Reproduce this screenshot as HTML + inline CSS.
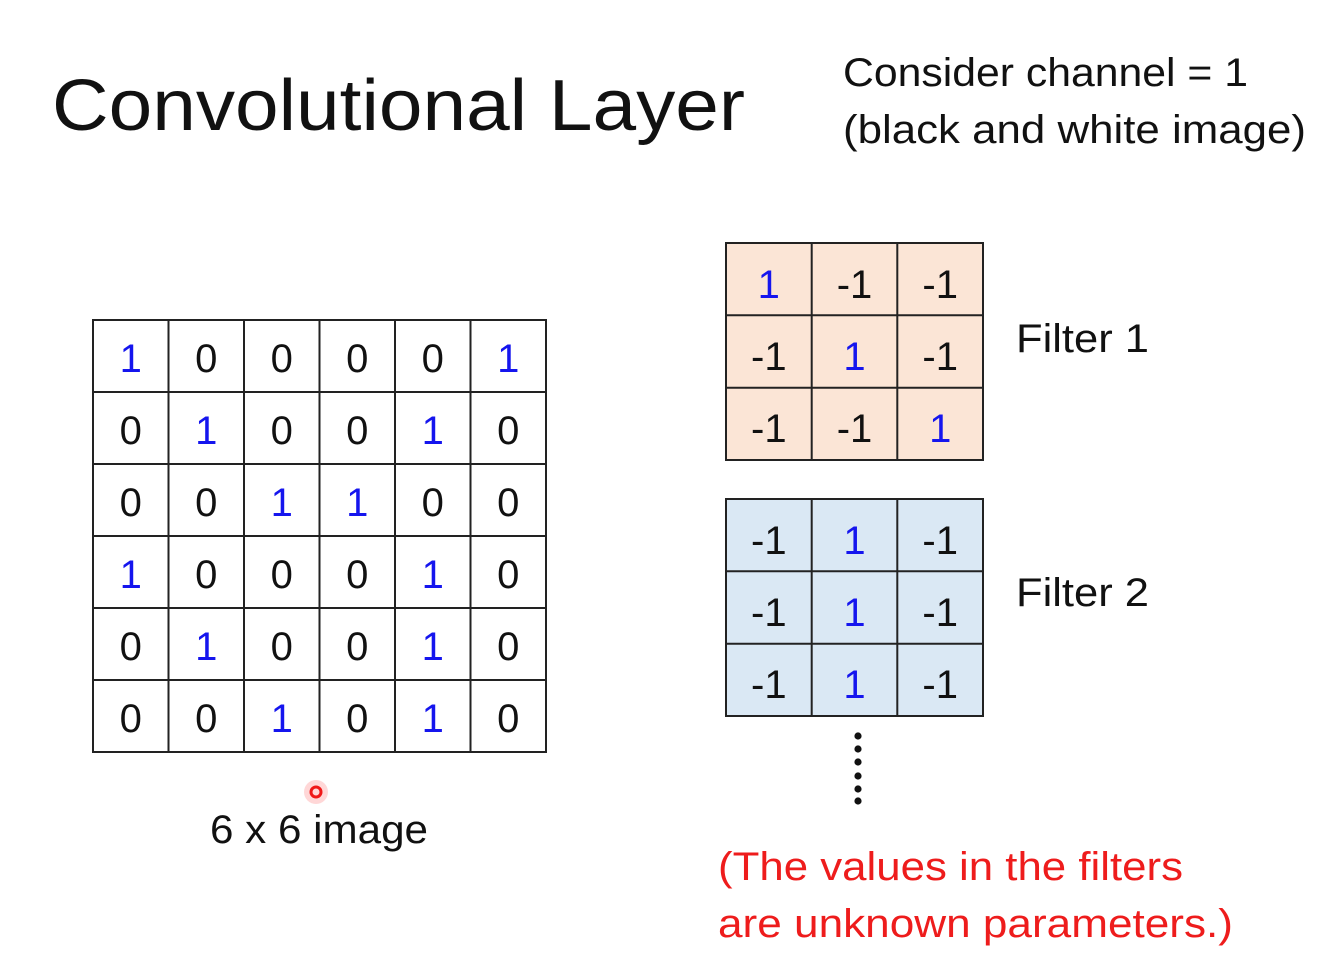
<!DOCTYPE html>
<html><head><meta charset="utf-8"><style>
html,body{margin:0;padding:0;background:#fff}
svg{display:block}
text{font-family:"Liberation Sans",sans-serif}
.d{font-size:40px;text-anchor:middle;fill:#111}
.b{fill:#1515ee}
</style></head><body>
<svg width="1332" height="956" viewBox="0 0 1332 956" xmlns="http://www.w3.org/2000/svg">
<rect width="1332" height="956" fill="#fff"/>
<text x="52" y="130" font-size="72" textLength="693" lengthAdjust="spacingAndGlyphs" fill="#111">Convolutional Layer</text>
<text x="843" y="86" font-size="40" textLength="405" lengthAdjust="spacingAndGlyphs" fill="#111">Consider channel = 1</text>
<text x="843" y="143" font-size="40" textLength="463" lengthAdjust="spacingAndGlyphs" fill="#111">(black and white image)</text>

<!-- main grid -->
<g stroke="#222" stroke-width="2" fill="none">
<rect x="93" y="320" width="453" height="432"/>
<line x1="168.5" y1="320" x2="168.5" y2="752"/><line x1="244" y1="320" x2="244" y2="752"/><line x1="319.5" y1="320" x2="319.5" y2="752"/><line x1="395" y1="320" x2="395" y2="752"/><line x1="470.5" y1="320" x2="470.5" y2="752"/>
<line x1="93" y1="392" x2="546" y2="392"/><line x1="93" y1="464" x2="546" y2="464"/><line x1="93" y1="536" x2="546" y2="536"/><line x1="93" y1="608" x2="546" y2="608"/><line x1="93" y1="680" x2="546" y2="680"/>
</g>
<g class="d">
<text x="130.75" y="372" class="d b">1</text><text x="206.25" y="372" class="d">0</text><text x="281.75" y="372" class="d">0</text><text x="357.25" y="372" class="d">0</text><text x="432.75" y="372" class="d">0</text><text x="508.25" y="372" class="d b">1</text>
<text x="130.75" y="444" class="d">0</text><text x="206.25" y="444" class="d b">1</text><text x="281.75" y="444" class="d">0</text><text x="357.25" y="444" class="d">0</text><text x="432.75" y="444" class="d b">1</text><text x="508.25" y="444" class="d">0</text>
<text x="130.75" y="516" class="d">0</text><text x="206.25" y="516" class="d">0</text><text x="281.75" y="516" class="d b">1</text><text x="357.25" y="516" class="d b">1</text><text x="432.75" y="516" class="d">0</text><text x="508.25" y="516" class="d">0</text>
<text x="130.75" y="588" class="d b">1</text><text x="206.25" y="588" class="d">0</text><text x="281.75" y="588" class="d">0</text><text x="357.25" y="588" class="d">0</text><text x="432.75" y="588" class="d b">1</text><text x="508.25" y="588" class="d">0</text>
<text x="130.75" y="660" class="d">0</text><text x="206.25" y="660" class="d b">1</text><text x="281.75" y="660" class="d">0</text><text x="357.25" y="660" class="d">0</text><text x="432.75" y="660" class="d b">1</text><text x="508.25" y="660" class="d">0</text>
<text x="130.75" y="732" class="d">0</text><text x="206.25" y="732" class="d">0</text><text x="281.75" y="732" class="d b">1</text><text x="357.25" y="732" class="d">0</text><text x="432.75" y="732" class="d b">1</text><text x="508.25" y="732" class="d">0</text>
</g>

<!-- red pointer -->
<circle cx="316" cy="792" r="12" fill="#ff6060" opacity="0.25"/>
<circle cx="316" cy="792" r="5" fill="none" stroke="#f01818" stroke-width="3"/>
<text x="210" y="843" font-size="40" textLength="218" lengthAdjust="spacingAndGlyphs" fill="#111">6 x 6 image</text>

<!-- filter 1 -->
<rect x="726" y="243" width="257" height="217" fill="#fbe5d6"/>
<g stroke="#222" stroke-width="2" fill="none">
<rect x="726" y="243" width="257" height="217"/>
<line x1="811.7" y1="243" x2="811.7" y2="460"/><line x1="897.3" y1="243" x2="897.3" y2="460"/>
<line x1="726" y1="315.3" x2="983" y2="315.3"/><line x1="726" y1="387.7" x2="983" y2="387.7"/>
</g>
<text x="768.8" y="298" class="d b">1</text><text x="854.5" y="298" class="d">-1</text><text x="940.2" y="298" class="d">-1</text>
<text x="768.8" y="370" class="d">-1</text><text x="854.5" y="370" class="d b">1</text><text x="940.2" y="370" class="d">-1</text>
<text x="768.8" y="442" class="d">-1</text><text x="854.5" y="442" class="d">-1</text><text x="940.2" y="442" class="d b">1</text>
<text x="1016" y="352" font-size="40" textLength="133" lengthAdjust="spacingAndGlyphs" fill="#111">Filter 1</text>

<!-- filter 2 -->
<rect x="726" y="499" width="257" height="217" fill="#dae8f4"/>
<g stroke="#222" stroke-width="2" fill="none">
<rect x="726" y="499" width="257" height="217"/>
<line x1="811.7" y1="499" x2="811.7" y2="716"/><line x1="897.3" y1="499" x2="897.3" y2="716"/>
<line x1="726" y1="571.3" x2="983" y2="571.3"/><line x1="726" y1="643.7" x2="983" y2="643.7"/>
</g>
<text x="768.8" y="554" class="d">-1</text><text x="854.5" y="554" class="d b">1</text><text x="940.2" y="554" class="d">-1</text>
<text x="768.8" y="626" class="d">-1</text><text x="854.5" y="626" class="d b">1</text><text x="940.2" y="626" class="d">-1</text>
<text x="768.8" y="698" class="d">-1</text><text x="854.5" y="698" class="d b">1</text><text x="940.2" y="698" class="d">-1</text>
<text x="1016" y="606" font-size="40" textLength="133" lengthAdjust="spacingAndGlyphs" fill="#111">Filter 2</text>

<!-- dots -->
<g fill="#111">
<circle cx="858" cy="736" r="3.6"/><circle cx="858" cy="749" r="3.6"/><circle cx="858" cy="762" r="3.6"/>
<circle cx="858" cy="776" r="3.6"/><circle cx="858" cy="789" r="3.6"/><circle cx="858" cy="801" r="3.6"/>
</g>

<text x="718" y="880" font-size="40" textLength="465" lengthAdjust="spacingAndGlyphs" fill="#ee1c1c">(The values in the filters</text>
<text x="718" y="937" font-size="40" textLength="515" lengthAdjust="spacingAndGlyphs" fill="#ee1c1c">are unknown parameters.)</text>
</svg>
</body></html>
